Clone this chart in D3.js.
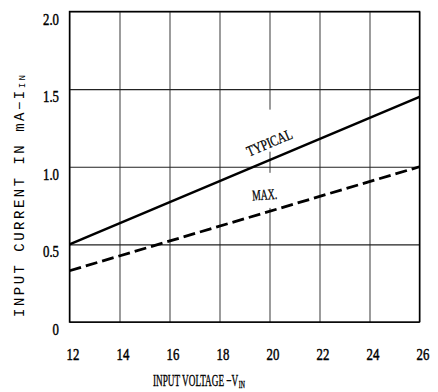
<!DOCTYPE html>
<html>
<head>
<meta charset="utf-8">
<script src="https://cdn.jsdelivr.net/npm/d3@7"></script>
<style>
  html, body { margin: 0; padding: 0; background: #fff; }
  svg { display: block; }
</style>
</head>
<body>
<svg id="chart" width="438" height="392"></svg>
<script>
// ---- data ----
const xTicks = [12, 14, 16, 18, 20, 22, 24, 26];
const yTicks = [0, 0.5, 1.0, 1.5, 2.0];
const yTickLabels = ["0", "0.5", "1.0", "1.5", "2.0"];
const voltage = [12, 26];
const typicalCurrent = [0.50, 1.45];
const maxCurrent = [0.33, 1.00];
const curveNames = ["TYPICAL", "MAX."];
const labelVoltage = [20.0, 19.8];
const labelCurrent = [1.155, 0.82];
const labelAngle = [-23, -4];
// gaps in the 20 V gridline behind the curve labels (current values)
const gridGapTop = [1.368, 0.961];
const gridGapBottom = [1.097, 0.735];

// ---- layout ----
const svg = d3.select("#chart");
const x = d3.scaleLinear().domain([12, 26]).range([69.5, 419.5]);
const y = d3.scaleLinear().domain([0, 2]).range([322, 11.5]);

const serif = "'Liberation Serif', 'Times New Roman', serif";

// vertical gridlines
svg.append("g")
  .attr("transform", `translate(0,${y(0)})`)
  .call(d3.axisBottom(x).tickValues(xTicks).tickSize(-(y(0) - y(2))).tickFormat(""))
  .call(g => g.select(".domain").remove())
  .call(g => g.selectAll("line").attr("stroke", "#666").attr("stroke-width", 1.3));

// horizontal gridlines
svg.append("g")
  .attr("transform", `translate(${x(12)},0)`)
  .call(d3.axisLeft(y).tickValues(yTicks).tickSize(-(x(26) - x(12))).tickFormat(""))
  .call(g => g.select(".domain").remove())
  .call(g => g.selectAll("line").attr("stroke", "#222").attr("stroke-width", 1.2));

// gaps in gridline behind labels
svg.append("g").selectAll("rect")
  .data(curveNames)
  .join("rect")
  .attr("x", x(20) - 5)
  .attr("width", 10)
  .attr("y", (d, i) => y(gridGapTop[i]))
  .attr("height", (d, i) => y(gridGapBottom[i]) - y(gridGapTop[i]))
  .attr("fill", "#fff");

// frame
svg.append("rect")
  .attr("x", x(12)).attr("y", y(2))
  .attr("width", x(26) - x(12)).attr("height", y(0) - y(2))
  .attr("fill", "none").attr("stroke", "#000").attr("stroke-width", 1.4);

// curves
const line = d3.line().x(d => x(d[0])).y(d => y(d[1]));
svg.append("path")
  .datum(voltage.map((v, i) => [v, typicalCurrent[i]]))
  .attr("d", line).attr("fill", "none")
  .attr("stroke", "#000").attr("stroke-width", 2.5);
svg.append("path")
  .datum(voltage.map((v, i) => [v, maxCurrent[i]]))
  .attr("d", line).attr("fill", "none")
  .attr("stroke", "#000").attr("stroke-width", 2.8)
  .attr("stroke-dasharray", "12,5");

// curve labels
svg.append("g").selectAll("text")
  .data(curveNames)
  .join("text")
  .attr("transform", (d, i) => `translate(${x(labelVoltage[i])},${y(labelCurrent[i])}) rotate(${labelAngle[i]})`)
  .attr("text-anchor", "middle")
  .attr("dominant-baseline", "central")
  .attr("font-family", serif)
  .attr("font-size", 15)
  .attr("stroke", "#000").attr("stroke-width", 0.3)
  .attr("textLength", (d, i) => i === 0 ? 48 : 25)
  .attr("lengthAdjust", "spacingAndGlyphs")
  .text(d => d);

// x tick labels
svg.append("g")
  .attr("transform", `translate(3,${y(0) + 32})`)
  .call(d3.axisBottom(x).tickValues(xTicks).tickSize(0).tickPadding(0).tickFormat(d3.format("d")))
  .call(g => g.select(".domain").remove())
  .call(g => g.selectAll("text")
    .attr("font-family", serif).attr("font-size", 16)
    .attr("stroke", "#000").attr("stroke-width", 0.45)
    .attr("fill", "#000").attr("y", 0).attr("dy", "0.35em")
    .attr("transform", "scale(0.8,1)"));

// y tick labels
svg.append("g")
  .attr("transform", `translate(59,7)`)
  .call(d3.axisLeft(y).tickValues(yTicks).tickSize(0).tickPadding(0)
    .tickFormat((d, i) => yTickLabels[i]))
  .call(g => g.select(".domain").remove())
  .call(g => g.selectAll("text")
    .attr("font-family", serif).attr("font-size", 16)
    .attr("stroke", "#000").attr("stroke-width", 0.45)
    .attr("fill", "#000").attr("dy", "0.35em")
    .attr("transform", "scale(0.8,1)"));

// y axis title
const yt = svg.append("text")
  .attr("transform", `translate(20,196) rotate(-90)`)
  .attr("text-anchor", "middle")
  .attr("dominant-baseline", "central")
  .attr("font-family", "'Liberation Mono', 'Courier New', monospace")
  .attr("font-size", 14)
  .attr("textLength", 242)
  .attr("lengthAdjust", "spacing");
yt.append("tspan").text("INPUT  CURRENT  IN  mA\u2212I");
yt.append("tspan").attr("font-size", 9).attr("dy", 3).text("IN");

// x axis title (condensed horizontally to the reference width)
const xtG = svg.append("g").attr("transform", "translate(153,386)");
const xt = xtG.append("text")
  .attr("x", 0).attr("y", 0)
  .attr("font-family", serif)
  .attr("font-size", 16)
  .attr("stroke", "#000").attr("stroke-width", 0.35);
xt.append("tspan").text("INPUT  VOLTAGE  \u2212V");
xt.append("tspan").attr("font-size", 10).attr("dy", 2).attr("dx", 1).text("IN");
const w = xt.node().getBBox().width;
xt.attr("transform", `scale(${92 / w},1)`);
</script>
</body>
</html>
